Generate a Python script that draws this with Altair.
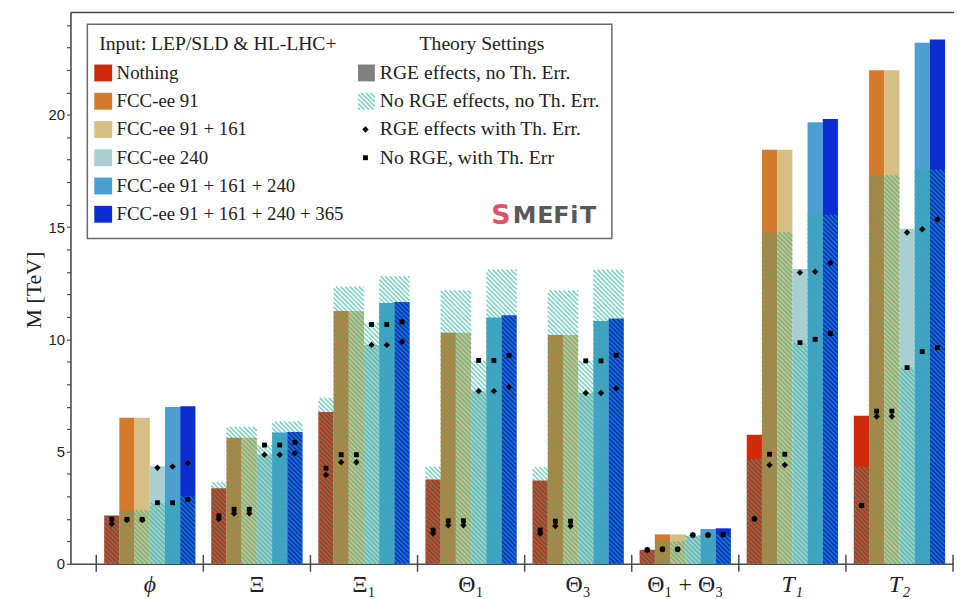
import altair as alt
import numpy as np
import pandas as pd

# ---------------- data ----------------
models = ["ϕ", "Ξ", "Ξ₁", "Θ₁", "Θ₃", "Θ₁ + Θ₃", "T₁", "T₂"]
italic_models = ["ϕ", "T₁", "T₂"]
scenarios = ["Nothing", "FCC-ee 91", "FCC-ee 91 + 161", "FCC-ee 240",
             "FCC-ee 91 + 161 + 240", "FCC-ee 91 + 161 + 240 + 365"]
scenario_colors = ["#d02a0c", "#d47a2c", "#d6bf82", "#a9cfd1", "#4c9fd0", "#0b2dd2"]

# RGE effects, no Th. Err. (solid bars)
rge_no_err = [
    [2.15, 6.51, 6.51, 4.35, 6.98, 7.02],
    [3.37, 5.61, 5.61, 4.86, 5.85, 5.87],
    [6.76, 11.26, 11.26, 9.75, 11.62, 11.66],
    [3.75, 10.29, 10.29, 7.69, 10.97, 11.07],
    [3.71, 10.19, 10.19, 7.61, 10.82, 10.93],
    [0.62, 1.31, 1.31, 1.25, 1.55, 1.58],
    [5.75, 18.44, 18.44, 13.13, 19.67, 19.81],
    [6.60, 21.98, 21.98, 14.92, 23.21, 23.35],
]
# No RGE effects, no Th. Err. (hatched bars)
norge_no_err = [
    [2.15, 2.38, 2.38, 2.72, 2.75, 3.02],
    [3.64, 6.10, 6.10, 5.29, 6.33, 6.33],
    [7.39, 12.35, 12.35, 10.73, 12.80, 12.80],
    [4.33, 12.18, 12.18, 9.04, 13.10, 13.10],
    [4.30, 12.18, 12.18, 9.05, 13.09, 13.09],
    [0.62, 1.00, 1.00, 1.28, 1.28, 1.30],
    [4.66, 14.78, 14.78, 9.85, 15.54, 15.54],
    [4.32, 17.31, 17.31, 8.74, 17.56, 17.56],
]
# RGE effects with Th. Err. (diamonds)
rge_err = [
    [1.77, 1.95, 1.95, 4.28, 4.33, 4.48],
    [1.99, 2.24, 2.24, 4.86, 4.86, 4.93],
    [3.96, 4.52, 4.52, 9.75, 9.75, 9.89],
    [1.35, 1.72, 1.72, 7.69, 7.69, 7.88],
    [1.35, 1.68, 1.68, 7.61, 7.61, 7.82],
    [0.62, 0.65, 0.65, 1.28, 1.28, 1.30],
    [2.00, 4.40, 4.40, 12.97, 13.01, 13.40],
    [2.60, 6.56, 6.56, 14.76, 14.90, 15.34],
]
# No RGE, with Th. Err (squares)
norge_err = [
    [1.99, 1.98, 1.98, 2.72, 2.72, 2.87],
    [2.14, 2.43, 2.43, 5.29, 5.29, 5.41],
    [4.26, 4.86, 4.86, 10.66, 10.66, 10.78],
    [1.50, 1.92, 1.92, 9.06, 9.06, 9.28],
    [1.50, 1.90, 1.90, 9.04, 9.04, 9.29],
    [0.62, 0.65, 0.65, 1.28, 1.28, 1.30],
    [2.00, 4.88, 4.88, 9.85, 10.00, 10.26],
    [2.60, 6.80, 6.80, 8.74, 9.45, 9.63],
]
y_ticks = list(range(0, 25))
legend_left_title = "Input: LEP/SLD & HL-LHC+"
legend_right_title = "Theory Settings"
theory_labels = ["RGE effects, no Th. Err.", "No RGE effects, no Th. Err.",
                 "RGE effects with Th. Err.", "No RGE, with Th. Err"]
y_title = "M [TeV]"

# ---------------- geometry ----------------
PXX = 108.0      # px per model group
PXY = 22.64      # px per TeV
W, H = 891, 556
XMIN = -26.0 / PXX
XMAX = XMIN + W / PXX
YMAX = H / PXY
MARGIN = 8.0 / PXX
BW = 15.33 / PXX
HATCH_P = 4.6
HATCH_COL = "#1fb39b"
SERIF = "Liberation Serif"

def dx(u):
    return XMIN + u / PXX

def dy(w):
    return w / PXY

def dyt(t):
    return (H - t) / PXY

def hatch(ua, ub, wa, wb, rows):
    C = np.ceil((ua + wa) / HATCH_P) * HATCH_P
    while C < ub + wb:
        lo = max(ua, C - wb)
        hi = min(ub, C - wa)
        if hi - lo > 0.2:
            rows.append({"x": dx(lo), "y": dy(C - lo), "x2": dx(hi), "y2": dy(C - hi)})
        C += HATCH_P

xs = alt.Scale(domain=[XMIN, XMAX], nice=False, zero=False)
ys = alt.Scale(domain=[0, YMAX], nice=False, zero=False)
xaxis = alt.Axis(labels=False, ticks=False, grid=False, title=None,
                 domainColor="#4a4a4a", domainWidth=1.6)
yaxis = alt.Axis(values=y_ticks, labelExpr="datum.value % 5 === 0 ? datum.label : ''",
                 tickSize=4, tickColor="#4a4a4a", tickWidth=1.2, domainColor="#4a4a4a",
                 domainWidth=1.6, labelFont="Liberation Sans", labelFontSize=15,
                 labelColor="#222222", labelPadding=2, grid=False, title=None)

def xq(f):
    return alt.X(f, type="quantitative", scale=xs, axis=xaxis)

def yq(f):
    return alt.Y(f, type="quantitative", scale=ys, axis=yaxis)

# ---------------- tables ----------------
bar_rows, stripe_rows, pt_rows = [], [], []
for i, m in enumerate(models):
    for j, s in enumerate(scenarios):
        x0 = i + MARGIN + j * BW
        bar_rows.append({"x": x0, "x2": x0 + BW, "y": 0.0, "y2": rge_no_err[i][j],
                         "c": scenario_colors[j]})
        ua = (x0 - XMIN) * PXX
        hatch(ua, ua + BW * PXX, 0.0, norge_no_err[i][j] * PXY, stripe_rows)
        pt_rows.append({"x": x0 + BW / 2, "d": rge_err[i][j], "s": norge_err[i][j]})
bars = pd.DataFrame(bar_rows)
pts = pd.DataFrame(pt_rows)

# legend (positions in px relative to the plot area)
box = pd.DataFrame([{"x": dx(17), "x2": dx(546), "y": dyt(12), "y2": dyt(228)}])
row_t = [61 + 28.5 * k for k in range(6)]
sw = pd.DataFrame([{"x": dx(24), "x2": dx(42), "y": dyt(t - 8.5), "y2": dyt(t + 8.5),
                    "c": c} for t, c in zip(row_t, scenario_colors)]
                  + [{"x": dx(290), "x2": dx(307), "y": dyt(row_t[0] - 8.5),
                      "y2": dyt(row_t[0] + 8.5), "c": "#808080"}])
hatch(290, 307, H - (row_t[1] + 8.5), H - (row_t[1] - 8.5), stripe_rows)
stripes = pd.DataFrame(stripe_rows)

scen_labels = pd.DataFrame([{"x": dx(46.5), "y": dyt(t), "text": s} for t, s in zip(row_t, scenarios)])
th_labels = pd.DataFrame([{"x": dx(312), "y": dyt(row_t[k]), "text": theory_labels[k]} for k in range(4)]
                         + [{"x": dx(29), "y": dyt(32), "text": legend_left_title}])
right_title = pd.DataFrame([{"x": dx(415), "y": dyt(32), "text": legend_right_title}])
leg_d = pd.DataFrame([{"x": dx(297.5), "d": dyt(row_t[2])}])
leg_s = pd.DataFrame([{"x": dx(297.5), "s": dyt(row_t[3])}])
logo_s = pd.DataFrame([{"x": dx(434), "y": dyt(205), "text": "S"}])
logo_letters = pd.DataFrame([{"x": dx(u), "y": dyt(205), "text": t}
                             for u, t in zip([458, 479, 495, 508, 522], ["M", "E", "F", "i", "T"])])

group_ticks = pd.DataFrame({"x": list(range(0, 9))})
group_ticks["y"] = dyt(H - 9)
group_ticks["y2"] = dyt(H + 8)
lab_up = pd.DataFrame([{"x": i + 0.5, "y": dyt(H + 28), "text": m}
                       for i, m in enumerate(models) if m not in italic_models])
lab_it = pd.DataFrame([{"x": i + 0.5, "y": dyt(H + 28), "text": m}
                       for i, m in enumerate(models) if m in italic_models])
frame = pd.DataFrame([{"x": XMIN, "x2": XMAX, "y": YMAX}])
ytitle = pd.DataFrame([{"x": dx(-37), "y": dyt(280), "text": y_title}])

# ---------------- layers ----------------
bar_layer = alt.Chart(bars).mark_rect().encode(
    x=xq("x"), x2="x2", y=yq("y"), y2="y2", color=alt.Color("c:N", scale=None))
stripe_layer = alt.Chart(stripes).mark_rule(color=HATCH_COL, strokeWidth=1.7, opacity=0.55).encode(
    x=xq("x"), y=yq("y"), x2="x2", y2="y2")
sq_layer = alt.Chart(pts).mark_point(shape="square", filled=True, size=24, color="black", opacity=1).encode(
    x=xq("x"), y=yq("s"))
di_layer = alt.Chart(pts).mark_point(shape="diamond", filled=True, size=42, color="black", opacity=1).encode(
    x=xq("x"), y=yq("d"))
tick_layer = alt.Chart(group_ticks).mark_rule(color="#4a4a4a", strokeWidth=1.5).encode(
    x=xq("x"), y=yq("y"), y2="y2")
lab_up_layer = alt.Chart(lab_up).mark_text(font=SERIF, fontSize=24, color="#222222",
                                           baseline="alphabetic").encode(x=xq("x"), y=yq("y"), text="text:N")
lab_it_layer = alt.Chart(lab_it).mark_text(font=SERIF, fontSize=24, fontStyle="italic",
                                           color="#222222", baseline="alphabetic").encode(
    x=xq("x"), y=yq("y"), text="text:N")
frame_layer = alt.Chart(frame).mark_rule(color="#4a4a4a", strokeWidth=1.6).encode(
    x=xq("x"), x2="x2", y=yq("y"))
ytitle_layer = alt.Chart(ytitle).mark_text(font=SERIF, fontSize=22, angle=270, align="center",
                                           baseline="middle", color="#222222").encode(
    x=xq("x"), y=yq("y"), text="text:N")
box_layer = alt.Chart(box).mark_rect(fill="white", stroke="#6a6a6a", strokeWidth=1.5).encode(
    x=xq("x"), x2="x2", y=yq("y"), y2="y2")
sw_layer = alt.Chart(sw).mark_rect().encode(
    x=xq("x"), x2="x2", y=yq("y"), y2="y2", color=alt.Color("c:N", scale=None))
scen_text_layer = alt.Chart(scen_labels).mark_text(font=SERIF, fontSize=19, align="left",
                                                   color="#222222").encode(x=xq("x"), y=yq("y"), text="text:N")
th_text_layer = alt.Chart(th_labels).mark_text(font=SERIF, fontSize=19.8, align="left",
                                               color="#222222").encode(x=xq("x"), y=yq("y"), text="text:N")
leg_title_layer = alt.Chart(right_title).mark_text(font=SERIF, fontSize=19.8, align="center",
                                                   color="#222222").encode(x=xq("x"), y=yq("y"), text="text:N")
leg_d_layer = alt.Chart(leg_d).mark_point(shape="diamond", filled=True, size=42, color="black", opacity=1).encode(
    x=xq("x"), y=yq("d"))
leg_s_layer = alt.Chart(leg_s).mark_point(shape="square", filled=True, size=24, color="black", opacity=1).encode(
    x=xq("x"), y=yq("s"))
logo_s_layer = alt.Chart(logo_s).mark_text(font="DejaVu Sans", fontSize=27, fontWeight="bold",
                                           color="#e2506a").encode(x=xq("x"), y=yq("y"), text="text:N")
logo_layer = alt.Chart(logo_letters).mark_text(font="DejaVu Sans", fontSize=24, fontWeight="bold",
                                               color="#595959").encode(x=xq("x"), y=yq("y"), text="text:N")

chart = alt.layer(
    bar_layer, box_layer, sw_layer, stripe_layer, sq_layer, di_layer, tick_layer,
    lab_up_layer, lab_it_layer, frame_layer, ytitle_layer, scen_text_layer, th_text_layer,
    leg_title_layer, leg_d_layer, leg_s_layer, logo_s_layer, logo_layer,
).properties(
    width=W, height=H,
    autosize=alt.AutoSizeParams(type="none"),
    padding={"left": 63, "top": 2, "right": 0, "bottom": 33},
).configure_view(stroke=None)

chart.save("out.html", embed_options={"renderer": "svg", "actions": False})
